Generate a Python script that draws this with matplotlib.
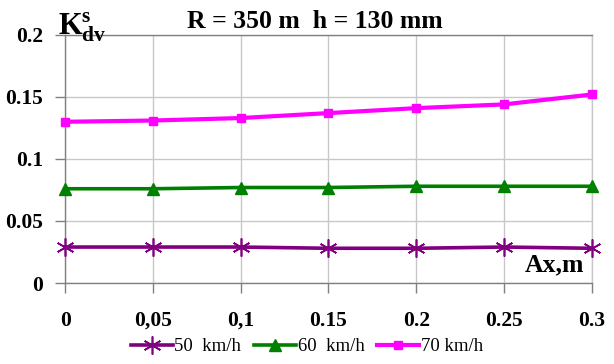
import matplotlib
matplotlib.use("Agg")
import matplotlib.pyplot as plt

# ── data ──────────────────────────────────────────────────────────────
ax_m = [0, 0.05, 0.1, 0.15, 0.2, 0.25, 0.3]
x_labels = ["0", "0,05", "0,1", "0.15", "0.2", "0.25", "0.3"]
k50 = [0.029, 0.029, 0.029, 0.028, 0.028, 0.029, 0.028]
k60 = [0.076, 0.076, 0.077, 0.077, 0.078, 0.078, 0.078]
k70 = [0.130, 0.131, 0.133, 0.137, 0.141, 0.144, 0.152]
y_ticks = [0, 0.05, 0.1, 0.15, 0.2]
y_labels = ["0", "0.05", "0.1", "0.15", "0.2"]

SERIF = "Liberation Serif"
plt.rcParams["mathtext.fontset"] = "custom"
plt.rcParams["mathtext.rm"] = "Liberation Serif:bold"
plt.rcParams["mathtext.bf"] = "Liberation Serif:bold"
plt.rcParams["mathtext.it"] = "Liberation Serif:bold"

fig = plt.figure(figsize=(6.14, 3.64), dpi=100)
ax = fig.add_axes([0.106, 0.2225, 0.858, 0.6815])

ax.plot(ax_m, k50, color="#800080", lw=2.6, marker=(6, 2, 0), ms=13,
        mew=1.2, label="50  km/h", zorder=3)
ax.plot(ax_m, k60, color="#008000", lw=2.6, marker="^", ms=8,
        label="60  km/h", zorder=3)
ax.plot(ax_m, k70, color="#FF00FF", lw=3.0, marker="s", ms=6,
        label="70 km/h", zorder=3)

ax.set_xlim(0, 0.3)
ax.set_ylim(0, 0.2)
ax.set_xticks(ax_m)
ax.set_xticklabels(x_labels, fontfamily=SERIF, fontweight="bold", fontsize=15.5,
                   va="baseline")
ax.set_yticks(y_ticks)
ax.set_yticklabels(y_labels, fontfamily=SERIF, fontweight="bold", fontsize=15.5)
ax.tick_params(axis="x", length=7, width=1, color="#808080", pad=24, direction="out")
ax.tick_params(axis="y", length=7, width=1, color="#808080", pad=9, direction="out")
ax.margins(0)

ax.grid(True, color="#c8c8c8", lw=1)
for side in ["left", "bottom", "top"]:
    ax.spines[side].set_color("#808080")
ax.spines["right"].set_color("#c8c8c8")
for s in ax.spines.values():
    s.set_linewidth(1)
for line in ax.get_lines():
    line.set_clip_on(False)

fig.text(0.512, 0.94, "R = 350 m  h = 130 mm", ha="center", va="center",
         fontfamily=SERIF, fontweight="bold", fontsize=18.5)
fig.text(0.094, 0.905, r"K$_{\mathrm{dv}}^{\mathrm{s}}$", ha="left", va="baseline",
         fontfamily=SERIF, fontweight="bold", fontsize=22)
ax.text(0.2955, 0.005, "Ax,m", ha="right", va="bottom",
        fontfamily=SERIF, fontweight="bold", fontsize=18.5)

leg = fig.legend(loc="center", bbox_to_anchor=(0.5, 0.048), ncol=3, frameon=False,
                 prop={"family": SERIF, "size": 13.5}, handlelength=2.2,
                 handletextpad=0.1, columnspacing=0.7)

fig.savefig("out.png", dpi=100)
